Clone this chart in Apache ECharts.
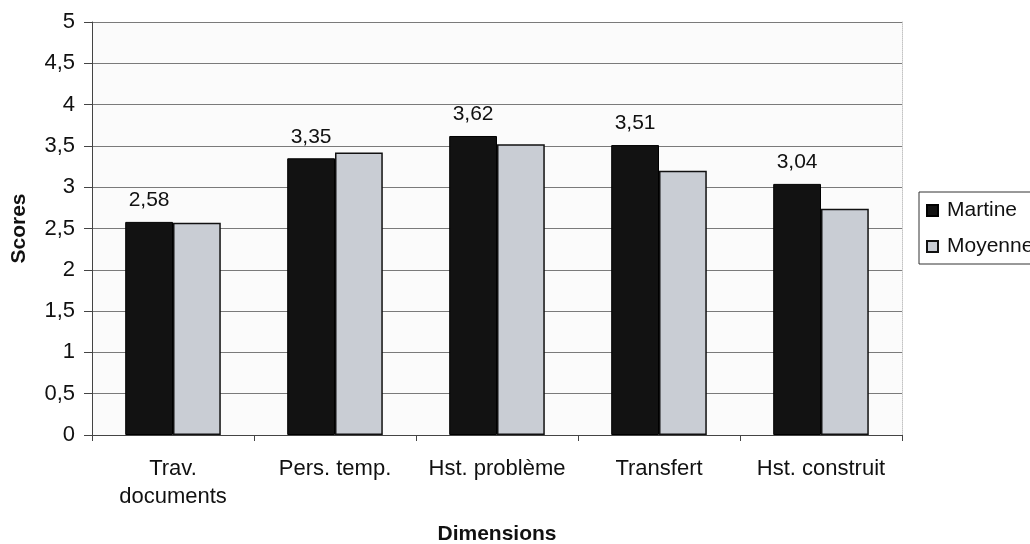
<!DOCTYPE html>
<html>
<head>
<meta charset="utf-8">
<script src="https://cdn.jsdelivr.net/npm/echarts@6/dist/echarts.min.js"></script>
<style>
html,body{margin:0;padding:0;background:#fff;}
#chart{width:1030px;height:544px;}
</style>
</head>
<body>
<div id="chart"></div>
<script>
const categories = ["Trav.\ndocuments", "Pers. temp.", "Hst. problème", "Transfert", "Hst. construit"];
const martine = [2.58, 3.35, 3.62, 3.51, 3.04];
const moyenne = [2.57, 3.42, 3.52, 3.20, 2.74];
const yTicks = [0, 0.5, 1, 1.5, 2, 2.5, 3, 3.5, 4, 4.5, 5];

const FONT = "'Liberation Sans', Arial, sans-serif";
const comma = v => String(v).replace('.', ',');

const chart = echarts.init(document.getElementById('chart'));
chart.setOption({
  animation: false,
  textStyle: { fontFamily: FONT },
  grid: { left: 92, right: 128, top: 22, bottom: 109, show: true, backgroundColor: '#fbfbfb', borderWidth: 0,
    containLabel: false, outerBoundsMode: 'none' },
  legend: {
    orient: 'vertical',
    left: 919, top: 192,
    data: ['Martine', 'Moyenne'],
    itemWidth: 11, itemHeight: 11, itemGap: 15,
    icon: 'rect',
    padding: [8, 14, 7, 7],
    borderColor: '#333', borderWidth: 1,
    backgroundColor: '#fff',
    textStyle: { fontSize: 21, color: '#111', fontFamily: FONT, padding: [0, 0, 0, 4] }
  },
  xAxis: {
    type: 'category',
    data: categories,
    name: 'Dimensions',
    nameLocation: 'middle',
    nameGap: 89,
    nameMoveOverlap: false,
    nameTextStyle: { fontSize: 21, fontWeight: 'bold', color: '#111', fontFamily: FONT },
    axisLine: { lineStyle: { color: '#444', width: 1 } },
    axisTick: { show: true, length: 6, lineStyle: { color: '#444' } },
    axisLabel: { fontSize: 22, color: '#111', margin: 20, lineHeight: 28, interval: 0, fontFamily: FONT }
  },
  yAxis: [{
    type: 'value',
    min: 0, max: 5, interval: 0.5,
    name: 'Scores',
    nameLocation: 'middle',
    nameGap: 62,
    nameMoveOverlap: false,
    nameTextStyle: { fontSize: 21, fontWeight: 'bold', color: '#111', fontFamily: FONT },
    axisLine: { show: true, lineStyle: { color: '#444', width: 1 } },
    axisTick: { show: true, length: 8, lineStyle: { color: '#444' } },
    axisLabel: { fontSize: 22, color: '#111', margin: 17, fontFamily: FONT,
      formatter: v => yTicks.includes(v) ? comma(v) : '' },
    splitLine: { show: true, lineStyle: { color: '#7a7a7a', width: 1 } }
  }, {
    type: 'value',
    min: 0, max: 5, interval: 0.5,
    position: 'right',
    axisLine: { show: true, lineStyle: { color: '#c4c4c4', type: 'dotted', width: 1 } },
    axisTick: { show: false },
    axisLabel: { show: false },
    splitLine: { show: false }
  }],
  series: [{
    name: 'Martine',
    type: 'bar',
    data: martine,
    barGap: '0%',
    barCategoryGap: '41%',
    itemStyle: { color: '#121212', borderColor: '#000', borderWidth: 1 },
    label: { show: true, position: 'top', distance: 11, fontSize: 21, color: '#111', fontFamily: FONT,
      formatter: p => comma(p.value) }
  }, {
    name: 'Moyenne',
    type: 'bar',
    data: moyenne,
    itemStyle: { color: '#c9cdd4', borderColor: '#111', borderWidth: 1.5 }
  }]
});
</script>
</body>
</html>
